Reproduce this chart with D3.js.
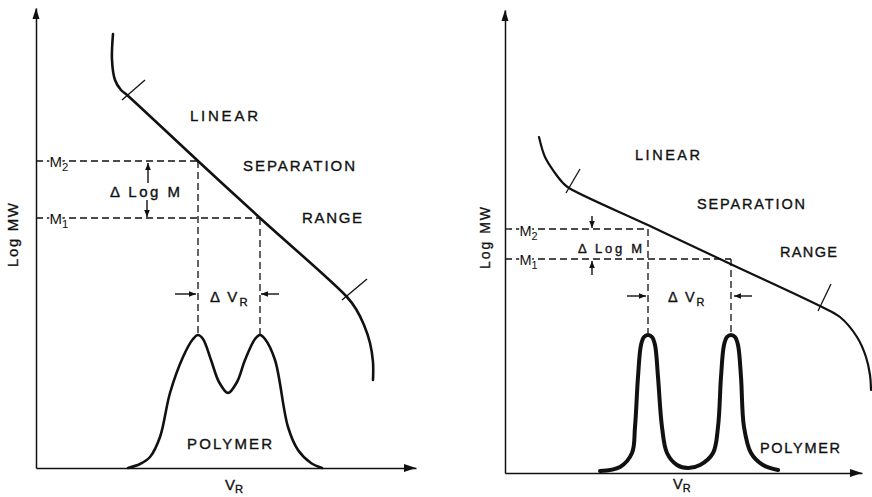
<!DOCTYPE html>
<html><head><meta charset="utf-8">
<script src="https://cdn.jsdelivr.net/npm/d3@7"></script>
<style>
body{margin:0;background:#fff}
text{font-family:"Liberation Sans",Arial,Helvetica,sans-serif;fill:#111}
</style>
</head><body>
<svg id="c" width="872" height="497"></svg>
<script>
// ---------------- DATA (arbitrary units: x = retention volume V_R, y = log MW / detector signal) ----------------
// Left panel: poorly resolved polymer peaks
const leftCalibration = [[19.25,108.5],[19,102],[19.75,97],[21.25,94.5],[22.75,93.25],[40.5,76.75],[56,62.5],[77.75,42.75],[80,39.75],[82,35.75],[83.5,31.25],[84.25,26.5],[84.25,22]];
const leftCalibrationLimits = [[[21.5,92],[27.25,97]],[[76.5,42],[82.75,47.25]]];
const leftPeaks = [[23,0],[26,1],[28.5,2.75],[31,7.75],[33.5,18.75],[36.75,27.75],[39.25,32.25],[40.5,33.25],[41.75,32.25],[43.75,27],[45.75,21.5],[48,18.75],[50.25,21.5],[52.25,27],[54.75,32.25],[56,33.25],[57.25,32.25],[59.75,27],[63,10.25],[65.5,4.5],[68.75,1.25],[71.5,0]];
const leftM = {M2:[40.5,76.75], M1:[56,62.5], peakTop:33.25};
const leftArrows = [[[28,71.25],[28,76.25]],[[27.75,67],[27.75,62.75]],[[34.75,43.5],[40,43.5]],[[60.75,43.5],[56.25,43.5]]];

// Right panel: well resolved polymer peaks
const rightCalibration = [[8.5,84],[10,79],[12.5,75],[14.5,72.5],[16,71.25],[36,61.85],[56.5,52.2],[78.75,41.75],[83.75,39],[88,34],[90.25,29],[91.25,24.5],[91.5,20.75]];
const rightCalibrationLimits = [[[15.25,70],[18.75,76]],[[78.25,40.5],[81.5,47.25]]];
const rightPeaks = [[23.75,0.5],[28.75,1.5],[31.75,5],[32.5,11.5],[33.25,24],[34,32],[34.75,34],[35.75,34.5],[36.75,34],[37.5,32],[38.25,24],[39.25,11.5],[40.5,5],[43,2],[45.75,1.25],[48.75,2],[52,5],[53.25,11.5],[54,24],[54.75,32],[55.5,34],[56.5,34.5],[57.5,34],[58.25,32],[59,24],[59.75,11.5],[61.5,5],[64.5,2],[68.25,0.75]];
const rightM = {M2:[35.75,61], M1:[56.5,53.5], peakTop:34.5};
const rightArrows = [[[21.75,64.25],[21.75,61.25]],[[21.75,49.5],[21.75,53]],[[30.5,44.25],[35.25,44.25]],[[61.75,44.25],[57.25,44.25]]];

// Text labels
const regionLabels = ["LINEAR","SEPARATION","RANGE"];
const peakLabel = "POLYMER";
const yAxisLabel = "Log MW";
const xAxisLabel = ["V","R"];
const deltaLogM = "\u0394 Log M";
const deltaVR = ["\u0394 V","R"];
const mLabels = [["M","2"],["M","1"]];

// ---------------- LAYOUT ----------------
const svg = d3.select("#c");
const defs = svg.append("defs");
defs.append("marker").attr("id","ah").attr("viewBox","0 0 10 8")
  .attr("refX",10).attr("refY",4).attr("markerWidth",7).attr("markerHeight",6)
  .attr("markerUnits","userSpaceOnUse").attr("orient","auto")
  .append("path").attr("d","M0,0L10,4L0,8z").attr("fill","#111");

function panel(cfg){
  const g = svg.append("g");
  const x = d3.scaleLinear().domain(cfg.xDomain).range(cfg.xRange);
  const y = d3.scaleLinear().domain(cfg.yDomain).range(cfg.yRange);
  const line = d3.line().x(d=>x(d[0])).y(d=>y(d[1])).curve(d3.curveCatmullRom.alpha(0.5));
  const straight = d3.line().x(d=>x(d[0])).y(d=>y(d[1]));

  // axes
  const xa = g.append("g").attr("transform",`translate(0,${y(0)})`)
    .call(d3.axisBottom(x).tickValues([]).tickSizeOuter(0));
  const ya = g.append("g").attr("transform",`translate(${x(0)},0)`)
    .call(d3.axisLeft(y).tickValues([]).tickSizeOuter(0));
  [xa,ya].forEach(a=>a.select(".domain").attr("stroke","#111").attr("stroke-width",1.5));
  const xe = x(cfg.xDomain[1]), ye = y(cfg.yDomain[1]);
  g.append("path").attr("d",`M${xe},${y(0)}L${xe-12},${y(0)-4}L${xe-12},${y(0)+4}z`).attr("fill","#111");
  g.append("path").attr("d",`M${x(0)},${ye}L${x(0)-3.5},${ye+11}L${x(0)+3.5},${ye+11}z`).attr("fill","#111");

  // dashed guides
  const dash = g.append("g").attr("fill","none").attr("stroke","#111").attr("stroke-width",1.3).attr("stroke-dasharray","7,4");
  [cfg.M.M2, cfg.M.M1].forEach(p=>{
    dash.append("path").attr("d",straight([[0,p[1]],p]));
    dash.append("path").attr("d",straight([p,[p[0],cfg.M.peakTop]]));
  });

  // calibration curve
  g.append("path").attr("d",line(cfg.cal)).attr("fill","none").attr("stroke","#111")
    .attr("stroke-width",cfg.calW).attr("stroke-linecap","round");
  cfg.limits.forEach(s=>g.append("path").attr("d",straight(s)).attr("stroke","#111").attr("stroke-width",1.3));

  // peaks
  g.append("path").attr("d",line(cfg.peaks)).attr("fill","none").attr("stroke","#111")
    .attr("stroke-width",cfg.peakW).attr("stroke-linecap","round").attr("stroke-linejoin","round");

  // small arrows
  cfg.arrows.forEach(s=>g.append("path").attr("d",straight(s)).attr("stroke","#111").attr("stroke-width",1.4).attr("marker-end","url(#ah)"));

  // texts
  const fs = cfg.fs;
  const T = (p,txt)=>g.append("text").attr("x",x(p[0])).attr("y",y(p[1])).attr("font-size",fs)
    .attr("stroke","#111").attr("stroke-width",0.35).text(txt);
  regionLabels.forEach((t,i)=>T(cfg.regionPos[i],t).attr("textLength",cfg.regionLen[i]).attr("lengthAdjust","spacing"));
  T(cfg.polyPos,peakLabel).attr("textLength",cfg.polyLen).attr("lengthAdjust","spacing");
  T(cfg.dlmPos,deltaLogM).attr("font-size",cfg.dlmFs).attr("textLength",cfg.dlmLen).attr("lengthAdjust","spacing");
  // delta V_R
  const dv = T(cfg.dvPos,"");
  dv.append("tspan").text(deltaVR[0]).attr("letter-spacing",2);
  dv.append("tspan").text(deltaVR[1]).attr("font-size",fs*0.75).attr("dy",4);
  // V_R axis label
  const vl = T(cfg.vrPos,"");
  vl.append("tspan").text(xAxisLabel[0]);
  vl.append("tspan").text(xAxisLabel[1]).attr("font-size",fs*0.75).attr("dy",3);
  // M labels
  mLabels.forEach((m,i)=>{
    const t = g.append("text").attr("x",x(cfg.mPos[i][0])).attr("y",y(cfg.mPos[i][1])).attr("font-size",fs)
      .attr("stroke","#fff").attr("stroke-width",3).attr("paint-order","stroke");
    t.append("tspan").text(m[0]);
    t.append("tspan").text(m[1]).attr("font-size",fs*0.75).attr("dy",4);
  });
  // Log MW
  g.append("text").attr("transform",`translate(${x(cfg.logPos[0])},${y(cfg.logPos[1])}) rotate(-90)`)
    .attr("text-anchor","middle").attr("font-size",cfg.logFs).attr("stroke","#111").attr("stroke-width",0.3)
    .attr("textLength",cfg.logLen).attr("lengthAdjust","spacing").text(yAxisLabel);
}

panel({
  xDomain:[0,95], xRange:[36,416], yDomain:[0,115], yRange:[468,8],
  cal:leftCalibration, limits:leftCalibrationLimits, peaks:leftPeaks, M:leftM, arrows:leftArrows,
  calW:2.6, peakW:2.6, fs:15,
  regionPos:[[38.5,86.75],[51.75,74.25],[66.5,61.25]], regionLen:[68,112,60],
  polyPos:[37.75,4.75], polyLen:85,
  dlmPos:[18.5,67.75], dlmFs:15, dlmLen:70,
  dvPos:[43.5,41.5], vrPos:[47.25,-5.5],
  mPos:[[3.4,75.25],[3.4,61]],
  logPos:[-4.5,58.25], logFs:15, logLen:64
});
panel({
  xDomain:[0,89.25], xRange:[505,862], yDomain:[0,115.75], yRange:[473,10],
  cal:rightCalibration, limits:rightCalibrationLimits, peaks:rightPeaks, M:rightM, arrows:rightArrows,
  calW:2.2, peakW:4, fs:14.5,
  regionPos:[[32.5,78.25],[48,66],[68.75,54]], regionLen:[65,108,57],
  polyPos:[63.75,5], polyLen:80,
  dlmPos:[18.25,55], dlmFs:13, dlmLen:64,
  dvPos:[40.75,42.75], vrPos:[42,-4],
  mPos:[[3.6,59.25],[3.6,52]],
  logPos:[-3.75,58.75], logFs:14, logLen:62
});
</script>
</body></html>
